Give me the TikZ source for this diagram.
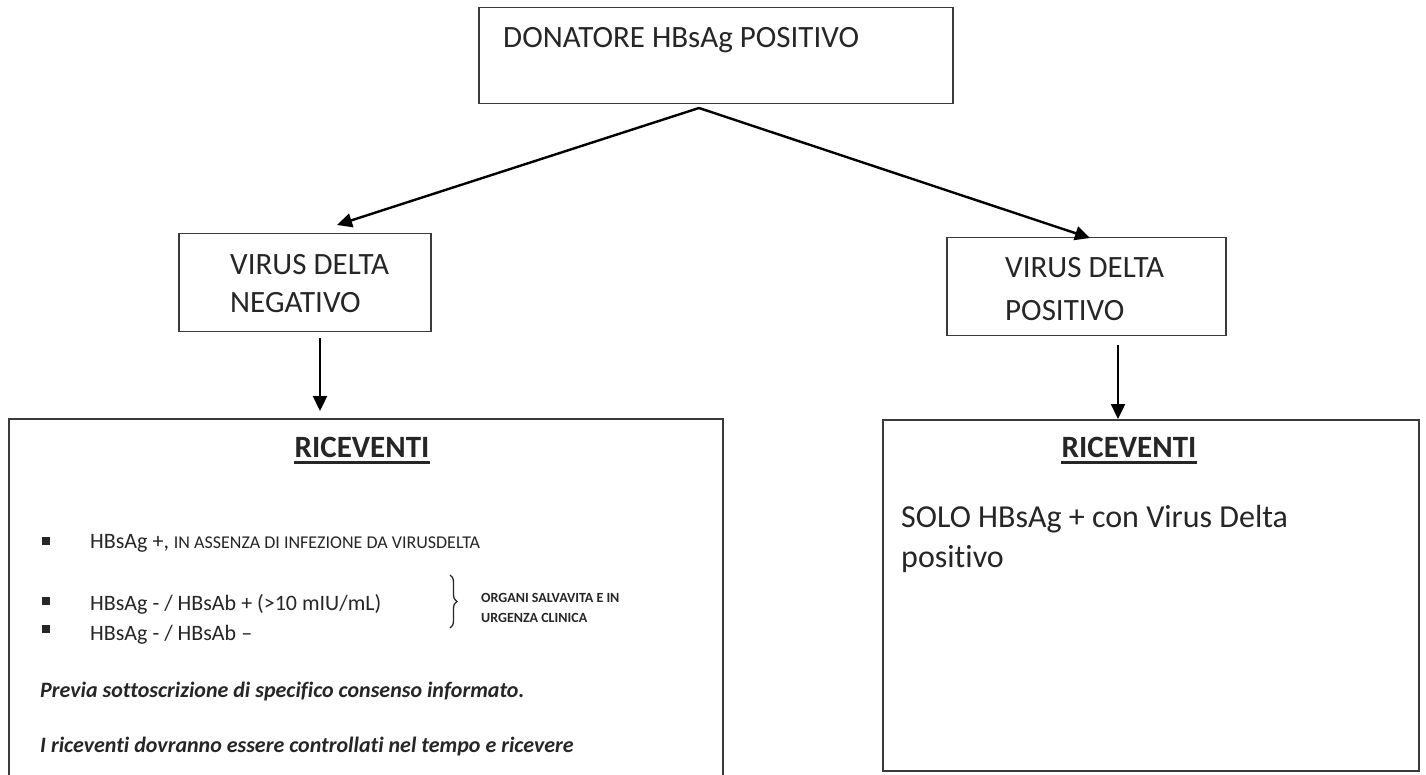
\documentclass[tikz,border=0pt]{standalone}
\usepackage{fontspec}
\setmainfont[Ligatures={NoCommon}]{Carlito}
\usetikzlibrary{arrows.meta,decorations.pathreplacing}
\definecolor{txt}{HTML}{262626}
\definecolor{edge}{HTML}{3A3A3A}
\tikzset{
  box/.style={draw=edge, line width=1.5pt, inner sep=0pt, anchor=north west},
  lbl/.style={inner sep=0pt, anchor=base west, text=txt},
  arr/.style={line width=2.4pt, -{Triangle[length=15pt,width=14pt]}},
  bul/.style={fill=txt, minimum size=8pt, inner sep=0pt},
}
\newcommand{\fs}[1]{\fontsize{#1}{#1}\selectfont}
\begin{document}
\begin{tikzpicture}[x=1pt,y=-1pt]
\useasboundingbox (0,0) rectangle (1426,775);
\fill[white] (0,0) rectangle (1426,775);
\begin{scope}
\clip (0,0) rectangle (1426,775);
% boxes
\node[box, minimum width=474pt, minimum height=96pt] (top) at (478,7) {};
\node[box, minimum width=252pt, minimum height=98pt] (neg) at (178,233) {};
\node[box, minimum width=279pt, minimum height=98pt] (pos) at (946,237) {};
\node[box, minimum width=714pt, minimum height=380pt] (left) at (8,418) {};
\node[box, minimum width=536pt, minimum height=351pt] (right) at (882,419) {};
\end{scope}
% texts
\node[lbl, font=\fs{31}] (t1) at (503,48) {DONATORE HBsAg POSITIVO};
\node[lbl, font=\fs{31}] (n1) at (230,275) {VIRUS DELTA};
\node[lbl, font=\fs{31}] (n2) at (230,313) {NEGATIVO};
\node[lbl, font=\fs{31}] (p1) at (1005,278) {VIRUS DELTA};
\node[lbl, font=\fs{31}] (p2) at (1005,320) {POSITIVO};
% connector points
\coordinate (apex) at (699,108);
\coordinate (negin) at (337,225);
\coordinate (posin) at (1090,238);
\coordinate (negout) at (320,338);
\coordinate (leftin) at (320,411);
\coordinate (posout) at (1118,345);
\coordinate (rightin) at (1118,419);
\draw[arr] (apex) -- (negin);
\draw[arr] (apex) -- (posin);
\draw[arr] (negout) -- (leftin);
\draw[arr] (posout) -- (rightin);
% RICEVENTI headers
\node[inner sep=0pt, anchor=base, text=txt, font=\fs{31}\bfseries] (rl) at (362,457) {RICEVENTI};
\draw[txt, line width=3pt] ([yshift=-5pt]rl.base west) -- ([yshift=-5pt]rl.base east);
\node[inner sep=0pt, anchor=base, text=txt, font=\fs{31}\bfseries] (rr) at (1129,457) {RICEVENTI};
\draw[txt, line width=3pt] ([yshift=-5pt]rr.base west) -- ([yshift=-5pt]rr.base east);
% right content
\begin{scope}
\clip (882,419) rectangle (1418,572);
\node[lbl, font=\fs{32}] (s1) at (901,527) {SOLO HBsAg + con Virus Delta};
\node[lbl, font=\fs{32}] (s2) at (901,567) {positivo};
\end{scope}
% left content
\node[bul] (b1) at (46,541) {};
\node[bul] (b2) at (46,601) {};
\node[bul] (b3) at (46,629) {};
\node[lbl, font=\fs{22}] (l1) at (90,548) {HBsAg +, {\fs{18}IN ASSENZA DI INFEZIONE DA VIRUSDELTA}};
\node[lbl, font=\fs{22}] (l2) at (90,610) {HBsAg - / HBsAb + (>10 mIU/mL)};
\node[lbl, font=\fs{22}] (l3) at (90,640) {HBsAg - / HBsAb –};
\coordinate (bra) at (450,575);
\coordinate (brb) at (450,628);
\draw[txt, line width=1.3pt, decorate, decoration={brace, amplitude=7pt}] (bra) -- (brb);
\node[lbl, font=\fs{14}\bfseries] (o1) at (481,602) {ORGANI SALVAVITA E IN};
\node[lbl, font=\fs{14}\bfseries] (o2) at (481,622) {URGENZA CLINICA};
\node[lbl, font=\fs{22}\bfseries\itshape] (pv) at (40,697) {Previa sottoscrizione di specifico consenso informato.};
\node[lbl, font=\fs{22}\bfseries\itshape] (ir) at (40,752) {I riceventi dovranno essere controllati nel tempo e ricevere};
\end{tikzpicture}
\end{document}
